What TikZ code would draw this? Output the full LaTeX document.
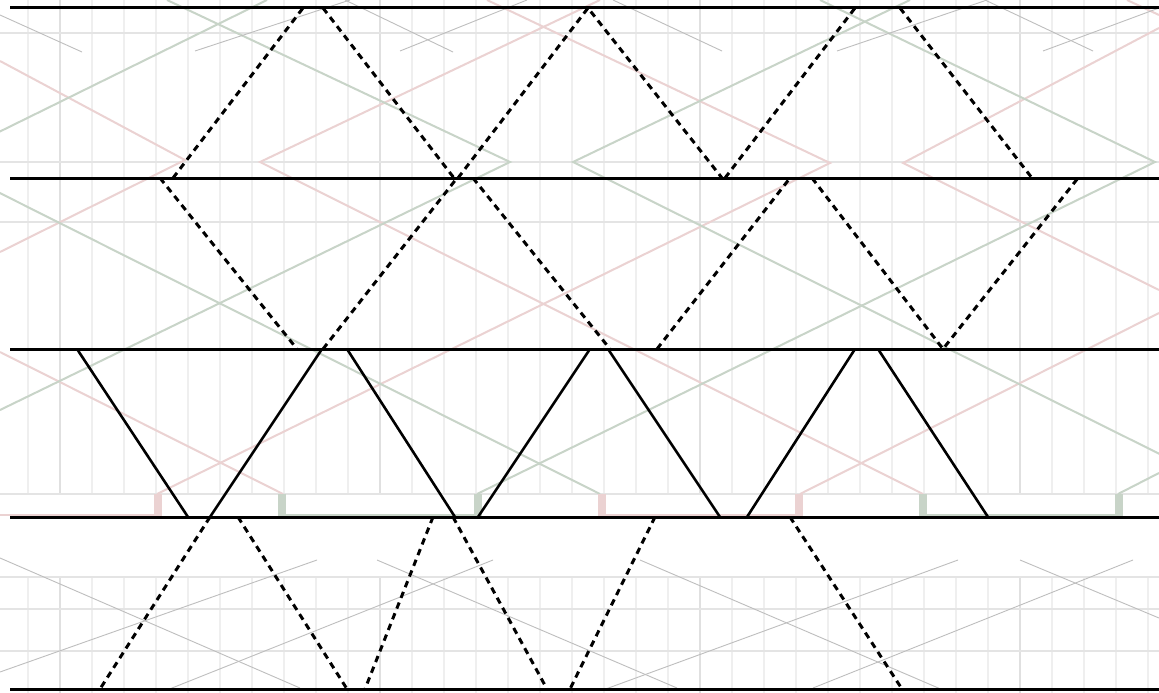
\documentclass[tikz,border=0pt]{standalone}
\definecolor{gridv}{HTML}{EFEFEF}
\definecolor{gridvd}{HTML}{E0E0E0}
\definecolor{gridh}{HTML}{E4E4E4}
\definecolor{sage}{HTML}{C8D4C8}
\definecolor{rose}{HTML}{EBD2D2}
\definecolor{greyline}{HTML}{BEBEBE}
\begin{document}
\begin{tikzpicture}[x=1pt,y=-1pt,
  vgrid/.style={draw=gridv,line width=2.5pt},
  vgriddark/.style={draw=gridvd,line width=2.5pt},
  hgrid/.style={draw=gridh,line width=2pt},
  greenline/.style={draw=sage,line width=2pt},
  pinkline/.style={draw=rose,line width=2pt},
  thinline/.style={draw=greyline,line width=0.9pt},
  rail/.style={draw=black,line width=3pt},
  solidleg/.style={draw=black,line width=2.6pt},
  dashleg/.style={draw=black,line width=3pt,dash pattern=on 6.5pt off 5pt}]
\useasboundingbox (0,0) rectangle (1159,693);
\fill[white] (0,0) rectangle (1159,693);
\begin{scope}
\clip (0,0) rectangle (1159,693);
% grid
\foreach \x in {28,60,...,1148} {
  \draw[vgrid] (\x,0) -- (\x,494);
  \draw[vgrid] (\x,577) -- (\x,693);
}
\foreach \x in {60,380,700,1020} {
  \draw[vgriddark] (\x,0) -- (\x,494);
  \draw[vgriddark] (\x,577) -- (\x,693);
}
\foreach \y in {33,162,222,494,577,609,651}
  \draw[hgrid] (0,\y) -- (1159,\y);
% pink lines
\draw[pinkline] (0,61) -- (185,160) -- (0,252);
\draw[pinkline] (600,0) -- (260,162) -- (923,494);
\draw[pinkline] (487,0) -- (830,163) -- (157,494);
\draw[pinkline] (1159,28) -- (903,163) -- (1159,290);
\draw[pinkline] (1127,0) -- (1159,15);
\draw[pinkline] (0,352) -- (283,494);
\draw[pinkline] (800,494) -- (1159,313);
% green lines
\draw[greenline] (267,0) -- (-62,162) -- (600,494);
\draw[greenline] (167,0) -- (510,162) -- (0,410);
\draw[greenline] (910,0) -- (573,162) -- (1240,494);
\draw[greenline] (820,0) -- (1155,162) -- (477,494);
\draw[greenline] (1118,494) -- (1159,473);
% bars between band 3 and rail
\foreach \x/\c in {158/rose,282/sage,478/sage,602/rose,799/rose,923/sage,1119/sage}
  \fill[\c] (\x-4,494) rectangle (\x+4,516);
\draw[pinkline] (0,514.5) -- (158,514.5);
\draw[greenline] (282,514.5) -- (478,514.5);
\draw[pinkline] (602,514.5) -- (799,514.5);
\draw[greenline] (923,514.5) -- (1119,514.5);
% thin grey lines, top band
\draw[thinline] (0,15) -- (82,52);
\draw[thinline] (195,51) -- (350,0);
\draw[thinline] (345,0) -- (453,52);
\draw[thinline] (400,51) -- (527,0);
\draw[thinline] (613,0) -- (722,51);
\draw[thinline] (837,51) -- (987,0);
\draw[thinline] (985,0) -- (1093,51);
\draw[thinline] (1043,51) -- (1159,8);
% thin grey lines, bottom band
\draw[thinline] (0,558) -- (300,688);
\draw[thinline] (377,560) -- (677,688);
\draw[thinline] (640,560) -- (943,690);
\draw[thinline] (1020,560) -- (1159,618);
\draw[thinline] (0,672) -- (317,560);
\draw[thinline] (167,690) -- (493,560);
\draw[thinline] (603,690) -- (958,560);
\draw[thinline] (813,688) -- (1133,560);
\end{scope}
% rails
\foreach \y/\n in {8/r1,178/r2,349/r3,517/r4,689/r5} {
  \coordinate (\n w) at (10,\y);
  \coordinate (\n e) at (1159,\y);
  \draw[rail] (\n w) -- (\n e);
}
% band 1 dashed
\draw[dashleg] (173,178) -- (303,8);
\draw[dashleg] (323,8) -- (454,178);
\draw[dashleg] (458,178) -- (588,8) -- (722,178);
\draw[dashleg] (725,178) -- (855,8);
\draw[dashleg] (900,8) -- (1032,178);
% band 2 dashed
\draw[dashleg] (160,178) -- (297,349);
\draw[dashleg] (323,349) -- (457,178);
\draw[dashleg] (473,178) -- (610,349);
\draw[dashleg] (657,349) -- (790,178);
\draw[dashleg] (812,178) -- (943,349) -- (1078,178);
% band 3 solid
\draw[solidleg] (77,349) -- (188,517);
\draw[solidleg] (210,517) -- (322,349);
\draw[solidleg] (347,349) -- (455,517);
\draw[solidleg] (478,517) -- (590,349);
\draw[solidleg] (608,349) -- (720,517);
\draw[solidleg] (747,517) -- (855,349);
\draw[solidleg] (878,349) -- (988,517);
% band 4 dashed
\draw[dashleg] (210,517) -- (100,689);
\draw[dashleg] (238,517) -- (347,689);
\draw[dashleg] (433,517) -- (365,689);
\draw[dashleg] (453,517) -- (547,689);
\draw[dashleg] (655,517) -- (570,689);
\draw[dashleg] (790,517) -- (902,689);
\end{tikzpicture}
\end{document}
